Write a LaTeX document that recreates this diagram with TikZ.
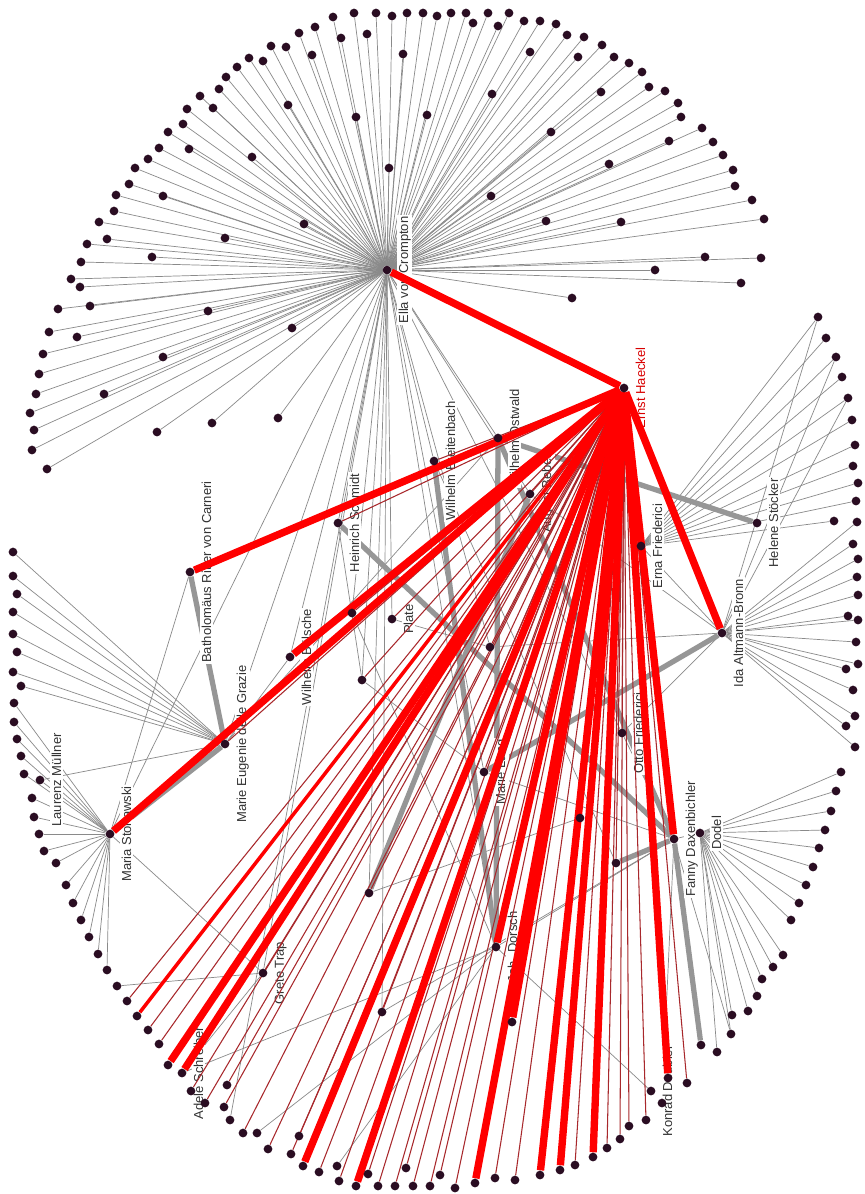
\documentclass[tikz,border=0pt]{standalone}
\usepackage{fontspec}
\setmainfont{Liberation Sans}
\usetikzlibrary{positioning}
\pgfdeclarelayer{grey}
\pgfdeclarelayer{lbl}
\pgfdeclarelayer{redl}
\pgfsetlayers{grey,lbl,redl,main}
\definecolor{dotcol}{HTML}{2A0D22}
\definecolor{edgegrey}{HTML}{8A8A8A}
\definecolor{thinred}{HTML}{A8282C}
\tikzstyle{person} = [circle, fill=dotcol, inner sep=0pt, minimum size=0.175cm]
\tikzstyle{whotext} = [rotate=90, anchor=north, fill=white, inner sep=0.8pt,
    text=black!80, font=\fontsize{7.4}{8}\selectfont]
\tikzstyle{greyline} = [draw=edgegrey, line width=0.4pt]
\tikzstyle{greythick} = [draw=edgegrey!90, line width=3pt]
\tikzstyle{redthin} = [draw=thinred, line width=0.6pt]
\tikzstyle{redthick} = [draw=red, line width=4.2pt]

\begin{document}
\begin{tikzpicture}[x=0.02cm, y=-0.02cm]
\useasboundingbox (0,0) rectangle (865,1194);
\begin{pgfonlayer}{grey}
\fill[white] (0,0) rectangle (865,1194);
\end{pgfonlayer}

% hubs
\node [person] (ella) at (387,270) {};
\node [person] (haeckel) at (624,388) {};
\node [person] (ostwald) at (498,438) {};
\node [person] (breitenbach) at (434,461) {};
\node [person] (bebel) at (530,494) {};
\node [person] (schmidt) at (338,523) {};
\node [person] (erna) at (641,546) {};
\node [person] (stoecker) at (757,523) {};
\node [person] (carneri) at (190,572) {};
\node [person] (plate) at (392,619) {};
\node [person] (boelsche) at (290,657) {};
\node [person] (ida) at (722,633) {};
\node [person] (grazie) at (225,744) {};
\node [person] (otto) at (622,733) {};
\node [person] (marie) at (484,772) {};
\node [person] (stonawski) at (110,834) {};
\node [person] (muellner) at (40,780) {};
\node [person] (fanny) at (674,839) {};
\node [person] (dodel) at (700,833) {};
\node [person] (dorsch) at (496,947) {};
\node [person] (trap) at (263,973) {};
\node [person] (adele) at (182,1073) {};
\node [person] (konrad) at (651,1091) {};

% other inner people
\foreach \x/\y [count=\i] in {352/613,362/680,490/647,580/818,616/863,369/893,382/1012,512/1022}
  \node [person] (i\i) at (\x,\y) {};

% circle of correspondents
\foreach \x/\y [count=\i] in {333/17,354/13,376/13,392/16,407/13,423/13,315/27,341/38,367/34,299/33,
  312/55,403/54,286/47,271/46,263/61,249/58,237/67,226/77,219/89,213/108,200/96,187/109,183/124,
  168/132,189/149,159/148,148/159,135/168,129/184,116/195,163/196,114/211,99/222,107/239,87/244,
  81/262,152/257,225/238,304/224,288/105,252/157,356/117,389/168,427/115,71/279,80/287,58/309,
  90/306,208/311,292/328,49/332,77/337,43/354,163/357,39/374,36/394,104/394,30/413,34/430,212/423,
  278/418,157/432,32/450,47/469,437/16,451/13,466/13,473/23,488/13,498/26,509/13,524/21,540/21,
  556/24,567/35,584/37,602/45,530/52,578/57,614/57,629/63,642/72,492/94,601/92,649/87,665/91,
  678/103,681/117,702/128,551/132,669/141,713/142,723/155,609/164,733/170,735/186,491/196,752/200,
  546/221,621/222,764/219,705/257,761/258,655/270,741/283,572/298}
  \node [person] (e\i) at (\x,\y) {};
\foreach \x/\y [count=\i] in {818/317,826/338,836/357,842/377,848/398,852/420,855/445,853/466,
  858/483,856/501,834/521}
  \node [person] (r\i) at (\x,\y) {};
\foreach \x/\y [count=\i] in {857/522,853/544,858/559,857/577,858/595,848/616,858/620,856/642,
  858/664,846/669,853/690,855/716,846/726,855/747}
  \node [person] (a\i) at (\x,\y) {};
\foreach \x/\y [count=\i] in {841/772,836/791,831/811,825/830,819/848,813/867,806/885,799/903,
  791/920,783/955,773/967,762/979,757/996,748/1011,732/1015,731/1034,717/1052}
  \node [person] (d\i) at (\x,\y) {};
\node [person] (f1) at (701,1045) {};
\node [person] (f2) at (662,1103) {};
\foreach \x/\y [count=\i] in {13/552,13/576,17/594,13/612,13/634,17/652,13/672,21/686}
  \node [person] (g\i) at (\x,\y) {};
\foreach \x/\y [count=\i] in {14/703,14/722,17/739,21/756,24/774,32/798,34/817,39/834,44/851,
  56/863,66/885,73/903,81/920,89/937,98/954,107/970}
  \node [person] (s\i) at (\x,\y) {};
\node [person] (t1) at (117,986) {};
\foreach \x/\y [count=\i] in {127/1001,148/1030,159/1044,191/1091,205/1103,227/1085,224/1107,
  243/1133,268/1149,291/1154,299/1136,319/1172,339/1181,368/1174,378/1186,395/1186,406/1168,
  413/1186,430/1186,440/1175,455/1188,495/1178,515/1180,575/1165,607/1148,
  620/1139,629/1126,646/1120,687/1083}
  \node [person] (bt\i) at (\x,\y) {};
\node [person] (bm) at (137,1016) {};
\foreach \x/\y [count=\i] in {168/1065,303/1166,356/1186,475/1183,540/1175,560/1170,593/1157,668/1078}
  \node [person] (bk\i) at (\x,\y) {};
\foreach \x/\y [count=\i] in {257/1133,337/1166,230/1120}
  \node [person] (bg\i) at (\x,\y) {};

% grey ties
\begin{pgfonlayer}{grey}
\foreach \i in {1,...,106} \draw [greyline] (ella) -- (e\i);
\foreach \i in {1,...,11} \draw [greyline] (erna) -- (r\i);
\foreach \i in {1,...,14} \draw [greyline] (ida) -- (a\i);
\foreach \i in {1,...,17} \draw [greyline] (dodel) -- (d\i);
\foreach \i in {1,...,8} \draw [greyline] (grazie) -- (g\i);
\foreach \i in {1,...,16} \draw [greyline] (stonawski) -- (s\i);
\foreach \n in {schmidt,breitenbach,ostwald,bebel,plate,boelsche,i1,i2,i3,grazie,trap,i6,marie,
  dorsch,otto,i7,bg3,stonawski}
  \draw [greyline] (ella) -- (\n);
\foreach \n in {r1,r3,r5} \draw [greyline] (ida) -- (\n);
\draw [greyline] (stonawski) -- (carneri);
\draw [greyline] (muellner) -- (grazie);
\draw [greyline] (muellner) -- (stonawski);
\draw [greyline] (boelsche) -- (grazie);
\draw [greyline] (trap) -- (t1);
\draw [greyline] (trap) -- (adele);
\draw [greyline] (trap) -- (stonawski);
\draw [greyline] (dorsch) -- (bg1);
\draw [greyline] (dorsch) -- (bg2);
\draw [greyline] (dorsch) -- (konrad);
\draw [greyline] (dorsch) -- (adele);
\draw [greyline] (dorsch) -- (fanny);
\draw [greyline] (fanny) -- (f2);
\draw [greyline] (fanny) -- (dodel);
\draw [greyline] (fanny) -- (d16);
\draw [greyline] (fanny) -- (i7);
\draw [greyline] (ida) -- (erna);
\draw [greyline] (ida) -- (bebel);
\draw [greyline] (ida) -- (otto);
\draw [greyline] (ida) -- (i3);
\draw [greyline] (schmidt) -- (i2);
\draw [greyline] (plate) -- (i3);
\draw [greyline] (i2) -- (marie);
\draw [greyline] (marie) -- (fanny);
\draw [greyline] (i1) -- (dorsch);
\draw [greyline] (breitenbach) -- (i5);
\draw [greyline] (otto) -- (fanny);
\draw [greyline] (grazie) -- (ostwald);
\draw [greyline] (i6) -- (i4);
% strong ties
\draw [greythick] (carneri) -- (grazie);
\draw [greythick] (grazie) -- (stonawski);
\draw [greythick] (schmidt) -- (fanny);
\draw [greythick] (breitenbach) -- (dorsch);
\draw [greythick] (ostwald) -- (dorsch);
\draw [greythick] (ostwald) -- (stoecker);
\draw [greythick] (ostwald) -- (fanny);
\draw [greythick] (ida) -- (marie);
\draw [greythick] (fanny) -- (i5);
\draw [greythick] (fanny) -- (f1);
\draw [greythick] (i6) -- (bebel);
\end{pgfonlayer}

% names
\begin{pgfonlayer}{lbl}
\foreach \p/\t in {ella/Ella von Crompton, ostwald/Wilhelm Ostwald,
  breitenbach/Wilhelm Breitenbach, bebel/August Bebel, schmidt/Heinrich Schmidt,
  erna/Erna Friederici, stoecker/Helene Stöcker, carneri/Batholomäus Ritter von Carneri,
  plate/Plate, boelsche/Wilhelm Bölsche, ida/Ida Altmann-Bronn,
  grazie/Marie Eugenie delle Grazie, otto/Otto Friederici, marie/Marie Lang,
  stonawski/Maria Stonawski, muellner/Laurenz Müllner, fanny/Fanny Daxenbichler,
  dodel/Dodel, dorsch/Joh. Dorsch, trap/Grete Trap, adele/Adele Schreiber,
  konrad/Konrad Deubler}
  \node [whotext] (\p-n) at ([xshift=3pt]\p.east) {\t};
\node [whotext, text=red!85!black] (haeckel-n) at ([xshift=3pt]haeckel.east) {Ernst Haeckel};
\end{pgfonlayer}

% letters to Haeckel
\begin{pgfonlayer}{redl}
\foreach \n in {ostwald,breitenbach,bebel,schmidt,plate,i1,i2,i3,marie,otto,i4,i5,erna,trap,
  i6,i7,grazie}
  \draw [redthin] (haeckel) -- (\n);
\foreach \i in {1,...,29} \draw [redthin] (haeckel) -- (bt\i);
\draw [draw=red, line width=2pt] (haeckel) -- (bm);
\foreach \n in {ella,carneri,boelsche,stonawski,adele,dorsch,i8,ida,fanny}
  \draw [redthick] (haeckel) -- (\n);
\foreach \i in {1,...,8} \draw [redthick] (haeckel) -- (bk\i);
\end{pgfonlayer}
\end{tikzpicture}
\end{document}
